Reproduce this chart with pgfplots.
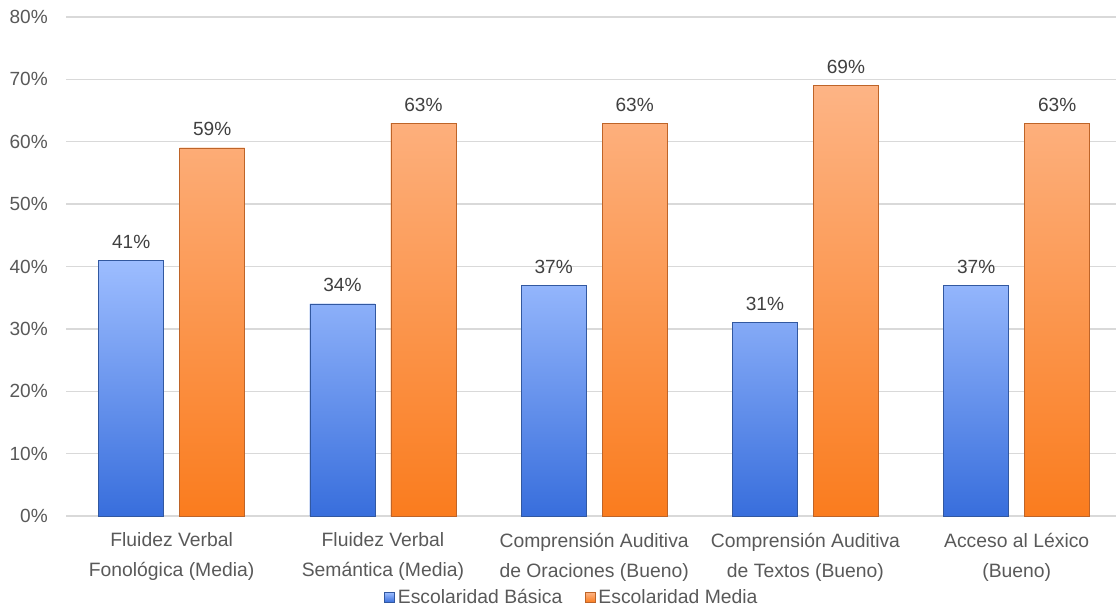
\documentclass[border=0pt]{standalone}
\usepackage{fontspec}
\setmainfont{Liberation Sans}
\usepackage{pgfplots}
\pgfplotsset{compat=1.18}
\definecolor{bluetop}{RGB}{157,189,255}
\definecolor{bluebot}{RGB}{56,110,220}
\definecolor{blueedge}{RGB}{50,88,160}
\definecolor{orgtop}{RGB}{253,180,133}
\definecolor{orgbot}{RGB}{250,124,30}
\definecolor{orgedge}{RGB}{190,100,40}
\definecolor{gridgray}{RGB}{217,217,217}
\definecolor{labgray}{RGB}{89,89,89}
\definecolor{datgray}{RGB}{64,64,64}
\begin{document}
\begin{tikzpicture}
\begin{axis}[
  at={(0,0)}, anchor=south west,
  scale only axis,
  width=787.5pt, height=374.25pt,
  xmin=-0.5, xmax=4.47,
  ymin=0, ymax=80,
  ytick={0,10,...,80},
  xtick={0,1,2,3,4},
  xticklabels={{Fluidez Verbal\\Fonológica (Media)},{Fluidez Verbal\\Semántica (Media)},{Comprensión Auditiva\\de Oraciones (Bueno)},{Comprensión Auditiva\\de Textos (Bueno)},{Acceso al Léxico\\(Bueno)}},
  xticklabel style={align=center, anchor=north, inner sep=0pt, yshift=-12.5pt, text=labgray, font=\fontsize{14.5}{22.5}\selectfont},
  yticklabel={\pgfmathprintnumber{\tick}\%},
  /pgf/number format/assume math mode=true,
  yticklabel style={anchor=east, inner sep=0pt, xshift=-13.5pt, text=labgray, font=\fontsize{14.3}{17}\selectfont},
  major tick length=0pt,
  axis line style={draw=none},
  ymajorgrids, grid style={gridgray, line width=1pt},
  ybar=12pt, bar width=48.75pt,
  nodes near coords={\pgfmathprintnumber{\pgfplotspointmeta}\%},
  nodes near coords style={anchor=base, inner sep=0pt, yshift=9pt, text=datgray, font=\fontsize{14.3}{17}\selectfont},
  legend style={at={(rel axis cs:0.5,0)}, anchor=center, yshift=-61pt, xshift=-14pt, draw=none, fill=none,
    legend columns=2, font=\fontsize{14.5}{17}\selectfont, text=labgray,
    /tikz/every even column/.append style={column sep=15pt}},
  legend image code/.code={\draw[#1] (0pt,-3.75pt) rectangle (7.5pt,3.75pt);},
]
\addplot[fill=bluebot, draw=blueedge, line width=0.6pt, top color=bluetop, bottom color=bluebot] coordinates {(0,41) (1,34) (2,37) (3,31) (4,37)};
\addplot[fill=orgbot, draw=orgedge, line width=0.6pt, top color=orgtop, bottom color=orgbot] coordinates {(0,59) (1,63) (2,63) (3,69) (4,63)};
\legend{Escolaridad Básica, Escolaridad Media}
\end{axis}
\pgfresetboundingbox
\path (-49.5pt,-69pt) rectangle (787.5pt,387pt);
\end{tikzpicture}
\end{document}
